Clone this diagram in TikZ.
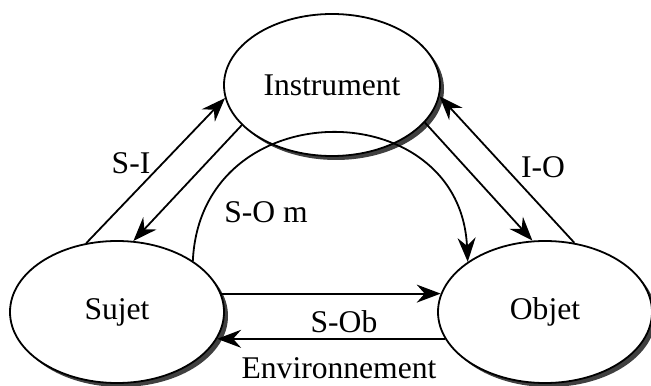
\documentclass[tikz,border=0pt]{standalone}
\usepackage{fontspec}
\setmainfont{Liberation Serif}
\usetikzlibrary{arrows.meta}
\usetikzlibrary{shadows}
\usetikzlibrary{shapes}
\tikzset{etat/.style={draw, ellipse, line width=0.9pt, fill=white, inner sep=0pt, minimum width=107pt, minimum height=71pt, drop shadow={shadow xshift=2pt,shadow yshift=-2pt,fill=black!75,opacity=1}}}
\tikzset{lien/.style={draw, line width=0.9pt, -{Stealth[length=12pt,width=9pt,inset=4pt]}}}

\begin{document}
\begin{tikzpicture}[x=0.5pt,y=0.5pt,font=\fontsize{15.8}{18}\selectfont]
\useasboundingbox (0,0) rectangle (651,385);
\node[etat,minimum width=108pt] (instr) at (332,300) {Instrument};
\node[etat] (sujet) at (117,73) {Sujet};
\node[etat] (objet) at (545,73) {Objet};
\path[lien] (sujet.114) -- (instr.187);
\path[lien] (instr.204) -- (sujet.77);
\path[lien] (instr.338) -- (objet.100);
\path[lien] (objet.67) -- (instr.354);
\path[lien] (sujet.10) -- (objet.170);
\path[lien] (objet.195) -- (sujet.345);
\path[lien] (sujet.34) .. controls +(8,170) and +(-8,170) .. (objet.147);
\node (si) at (131,222) {S-I};
\node (io) at (543,218) {I-O};
\node (som) at (266,173) {S-O m};
\node (sob) at (344,63) {S-Ob};
\node[inner sep=0pt] (env) at (339,17) {Environnement};
\end{tikzpicture}
\end{document}
